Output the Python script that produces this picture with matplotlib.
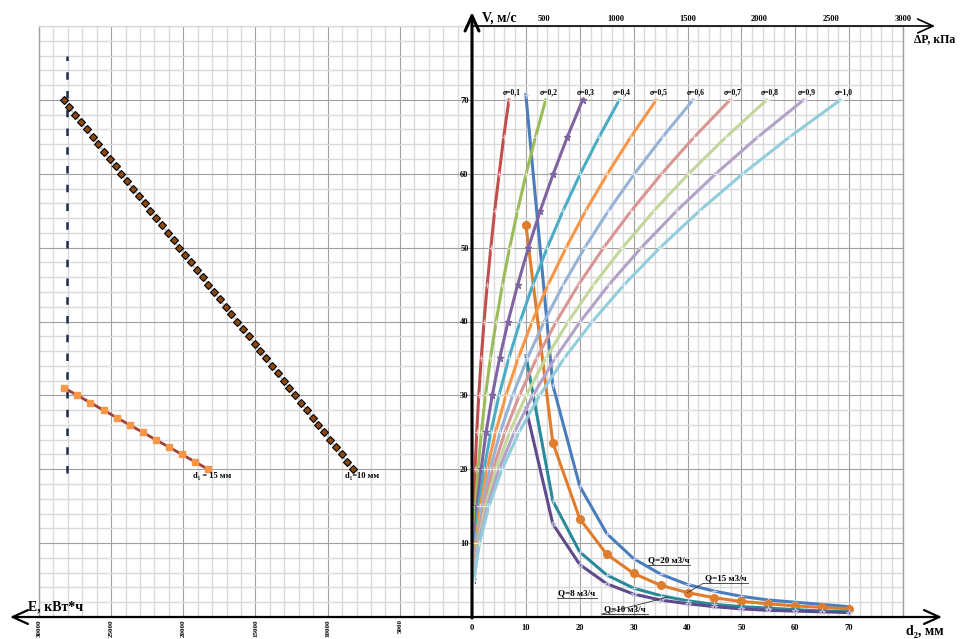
import numpy as np
import matplotlib
matplotlib.use('Agg')
import matplotlib.pyplot as plt
from matplotlib.patches import FancyArrowPatch
from matplotlib.ticker import MultipleLocator
from matplotlib.colors import to_rgba

plt.rcParams['font.family'] = ['Liberation Serif', 'DejaVu Serif']
plt.rcParams['font.weight'] = 'bold'

## right half: V (m/s) vs pressure drop dP (kPa) for each sigma
v_sigma = [5, 10, 15, 20, 25, 30, 35, 40, 45, 50, 55, 60, 65, 70]
sigma_labels = ['σ=0,1', 'σ=0,2', 'σ=0,3', 'σ=0,4', 'σ=0,5', 'σ=0,6', 'σ=0,7', 'σ=0,8', 'σ=0,9', 'σ=1,0']
dp_s01 = [1, 5, 12, 21, 33, 47, 64, 84, 106, 131, 158, 189, 221, 257]
dp_s02 = [3, 10, 24, 42, 65, 94, 128, 168, 212, 262, 317, 377, 442, 513]
dp_s03 = [4, 16, 35, 63, 98, 141, 192, 251, 318, 393, 475, 566, 664, 770]
dp_s04 = [5, 21, 47, 84, 131, 188, 256, 335, 424, 524, 634, 754, 885, 1026]
dp_s05 = [7, 26, 59, 105, 164, 236, 321, 419, 530, 655, 792, 943, 1106, 1283]
dp_s06 = [8, 31, 71, 125, 196, 283, 385, 503, 636, 785, 950, 1131, 1327, 1539]
dp_s07 = [9, 36, 83, 146, 229, 330, 449, 587, 742, 916, 1109, 1320, 1548, 1796]
dp_s08 = [10, 42, 94, 167, 262, 377, 513, 670, 848, 1047, 1267, 1508, 1770, 2052]
dp_s09 = [12, 47, 106, 188, 294, 424, 577, 754, 954, 1178, 1426, 1697, 1991, 2309]
dp_s10 = [13, 52, 118, 209, 327, 471, 641, 838, 1060, 1309, 1584, 1885, 2212, 2565]
sigma_colors = ['#c0504d', '#9bbb59', '#8064a2', '#4bacc6', '#f79646',
                '#95b3d7', '#d99694', '#c3d69b', '#b3a2c7', '#93cddd']

## right half: V (m/s) vs d2 (mm) for each flow rate
d2 = [10, 15, 20, 25, 30, 35, 40, 45, 50, 55, 60, 65, 70]
v_q20 = [70.7, 31.4, 17.7, 11.3, 7.9, 5.8, 4.4, 3.5, 2.8, 2.3, 2.0, 1.7, 1.4]
v_q15 = [53.1, 23.6, 13.3, 8.5, 5.9, 4.3, 3.3, 2.6, 2.1, 1.8, 1.5, 1.3, 1.1]
v_q10 = [35.4, 15.7, 8.8, 5.7, 3.9, 2.9, 2.2, 1.7, 1.4, 1.2, 1.0, 0.8, 0.7]
v_q8 = [28.3, 12.6, 7.1, 4.5, 3.1, 2.3, 1.8, 1.4, 1.1, 0.9, 0.8, 0.7, 0.6]

## left half: energy E (kWh) vs V
v_d10 = [70, 69, 68, 67, 66, 65, 64, 63, 62, 61, 60, 59, 58, 57, 56, 55, 54, 53, 52, 51,
         50, 49, 48, 47, 46, 45, 44, 43, 42, 41, 40, 39, 38, 37, 36, 35, 34, 33, 32, 31,
         30, 29, 28, 27, 26, 25, 24, 23, 22, 21, 20]
e_d10 = [28300, 27900, 27500, 27100, 26700, 26290, 25890, 25490, 25090, 24690,
         24290, 23890, 23490, 23080, 22680, 22280, 21880, 21480, 21080, 20680,
         20280, 19880, 19470, 19070, 18670, 18270, 17870, 17470, 17070, 16670,
         16260, 15860, 15460, 15060, 14660, 14260, 13860, 13460, 13050, 12650,
         12250, 11850, 11450, 11050, 10650, 10250, 9850, 9440, 9040, 8640, 8240]
v_d15 = [31, 30, 29, 28, 27, 26, 25, 24, 23, 22, 21, 20]
e_d15 = [28250, 27340, 26440, 25530, 24630, 23720, 22810, 21910, 21000, 20090, 19190, 18280]
e_limit = 28050
v_limit = [19.5, 76]

W, H = 960, 639
fig = plt.figure(figsize=(W / 100, H / 100), dpi=100)
ax_l = fig.add_axes([39 / W, 22 / H, 433 / W, 591 / H])
ax_r = fig.add_axes([472 / W, 22 / H, 431 / W, 591 / H])

minor_c, major_c = '#dadada', '#a0a0a0'

for ax in (ax_l, ax_r):
    ax.set_ylim(0, 80)
    ax.set_yticks([10, 20, 30, 40, 50, 60, 70])
    ax.yaxis.set_minor_locator(MultipleLocator(2))
    ax.grid(which='minor', color=minor_c, lw=1.0)
    ax.grid(which='major', color=major_c, lw=0.8)
    ax.set_axisbelow(True)
    ax.tick_params(which='both', length=0, labelsize=6)
    for s in ax.spines.values():
        s.set_color(minor_c)
        s.set_linewidth(1.0)

# left: E axis runs to the left
ax_l.set_xlim(30000, 0)
ax_l.set_xticks([5000, 10000, 15000, 20000, 25000, 30000])
ax_l.xaxis.set_minor_locator(MultipleLocator(1000))
ax_l.tick_params(labelleft=False)
ax_l.tick_params(axis='x', pad=1.5, labelsize=5)
for lab in ax_l.get_xticklabels():
    lab.set_rotation(90)
ax_l.spines['left'].set_color(major_c)

ax_l.plot(e_d10, v_d10, color='#cfcfcf', lw=1.6, marker='D', ms=3.6,
          mfc='#8a4a14', mec='black', mew=0.8, zorder=3)
ax_l.plot(e_d15, v_d15, color='#a0403a', lw=2, marker='s', ms=3.8,
          mfc='#f79646', mec='#f79646', zorder=3)
ax_l.vlines(e_limit, v_limit[0], v_limit[1], colors='#1f2d4d', lw=1.8,
            linestyles=(0, (3, 4.5)), zorder=2)
ax_l.text(18000, 19.6, 'd₁ = 15 мм', fontsize=6, ha='center', va='top')
ax_l.text(7600, 19.6, 'd₁=10 мм', fontsize=6, ha='center', va='top')

# right: d2 axis
ax_r.set_xlim(0, 80)
ax_r.set_xticks([0, 10, 20, 30, 40, 50, 60, 70])
ax_r.xaxis.set_minor_locator(MultipleLocator(2))
ax_r.tick_params(axis='y', pad=2.5)
ax_r.tick_params(axis='x', pad=5)
ax_r.spines['right'].set_color(major_c)

q_series = [
    (v_q20, '#4a7ebb', '+', 4, 'Q=20 м3/ч'),
    (v_q15, '#e07c2c', 'o', 5.5, 'Q=15 м3/ч'),
    (v_q10, '#2a8a99', '+', 4, 'Q=10 м3/ч'),
    (v_q8, '#5f4b8b', '*', 4, 'Q=8 м3/ч'),
]
for vals, c, m, ms, lab in q_series:
    if m == 'o':
        ax_r.plot(d2, vals, color=c, lw=2.2, marker=m, ms=ms, mfc=c, mec=c, zorder=4)
    else:
        ax_r.plot(d2, vals, color=c, lw=2.2, marker=m, ms=ms,
                  mec=to_rgba('#d8d8f0', 0.8), mew=0.8, zorder=4)

# flow labels with underline and leader
def flow_label(text, x, y, x0, x1, lead=None):
    ax_r.text((x0 + x1) / 2, y, text, fontsize=6.5, ha='center', va='bottom', zorder=6)
    ax_r.plot([x0, x1], [y - 0.15, y - 0.15], color='#333333', lw=0.6, zorder=6)
    if lead is not None:
        ax_r.plot([x0, lead[0]], [y - 0.15, lead[1]], color='#333333', lw=0.6, zorder=6)

flow_label('Q=20 м3/ч', 36.6, 7.2, 32.7, 40.5)
flow_label('Q=15 м3/ч', 47.0, 4.7, 42.9, 51.2, lead=(40, 3.3))
flow_label('Q=8 м3/ч', 19.4, 2.7, 15.8, 23.2)
flow_label('Q=10 м3/ч', 27.7, 0.55, 24.1, 32.7, lead=(36.4, 2.7))

# top: pressure drop axis
ax_t = ax_r.twiny()
ax_t.set_xlim(0, 3000)
ax_t.set_xticks([500, 1000, 1500, 2000, 2500, 3000])
ax_t.tick_params(length=0, labelsize=6, pad=2)
for s in ax_t.spines.values():
    s.set_visible(False)

dp_all = [dp_s01, dp_s02, dp_s03, dp_s04, dp_s05, dp_s06, dp_s07, dp_s08, dp_s09, dp_s10]
for i, dp in enumerate(dp_all):
    c = sigma_colors[i]
    if i == 2:
        ax_t.plot(dp, v_sigma, color=c, lw=2.2, marker='*', ms=5, mec=c, zorder=3)
    else:
        ax_t.plot(dp, v_sigma, color=c, lw=2.2, marker='+', ms=4,
                  mec=to_rgba('white', 0.6), mew=0.8, zorder=3)
    ax_t.annotate(sigma_labels[i], (dp[-1], v_sigma[-1]), xytext=(2, 2.5),
                  textcoords='offset points', fontsize=5.5, ha='center', va='bottom')

# arrows for the axes
def fpx(x, y):
    return (x / W, 1 - y / H)

arrows = [
    (fpx(10, 617), fpx(942, 617), '<->', 1.6),
    (fpx(472, 618), fpx(472, 12), '->', 2.2),
    (fpx(472, 26), fpx(935, 26), '->', 1.2),
]
for a, b, st, lw in arrows:
    fig.add_artist(FancyArrowPatch(a, b, transform=fig.transFigure,
                                   arrowstyle=st + ',head_length=0.55,head_width=0.25',
                                   mutation_scale=20, lw=lw, color='black',
                                   shrinkA=0, shrinkB=0, zorder=10))

fig.text(482 / W, 1 - 18 / H, 'V, м/с', fontsize=10, ha='left', va='center')
fig.text(914 / W, 1 - 39 / H, 'ΔP, кПа', fontsize=8.5, ha='left', va='center')
fig.text(906 / W, 1 - 631 / H, 'd₂, мм', fontsize=10, ha='left', va='center')
fig.text(28 / W, 1 - 607 / H, 'E, кВт*ч', fontsize=10, ha='left', va='center')

plt.savefig('out.png', dpi=100, facecolor='white')
